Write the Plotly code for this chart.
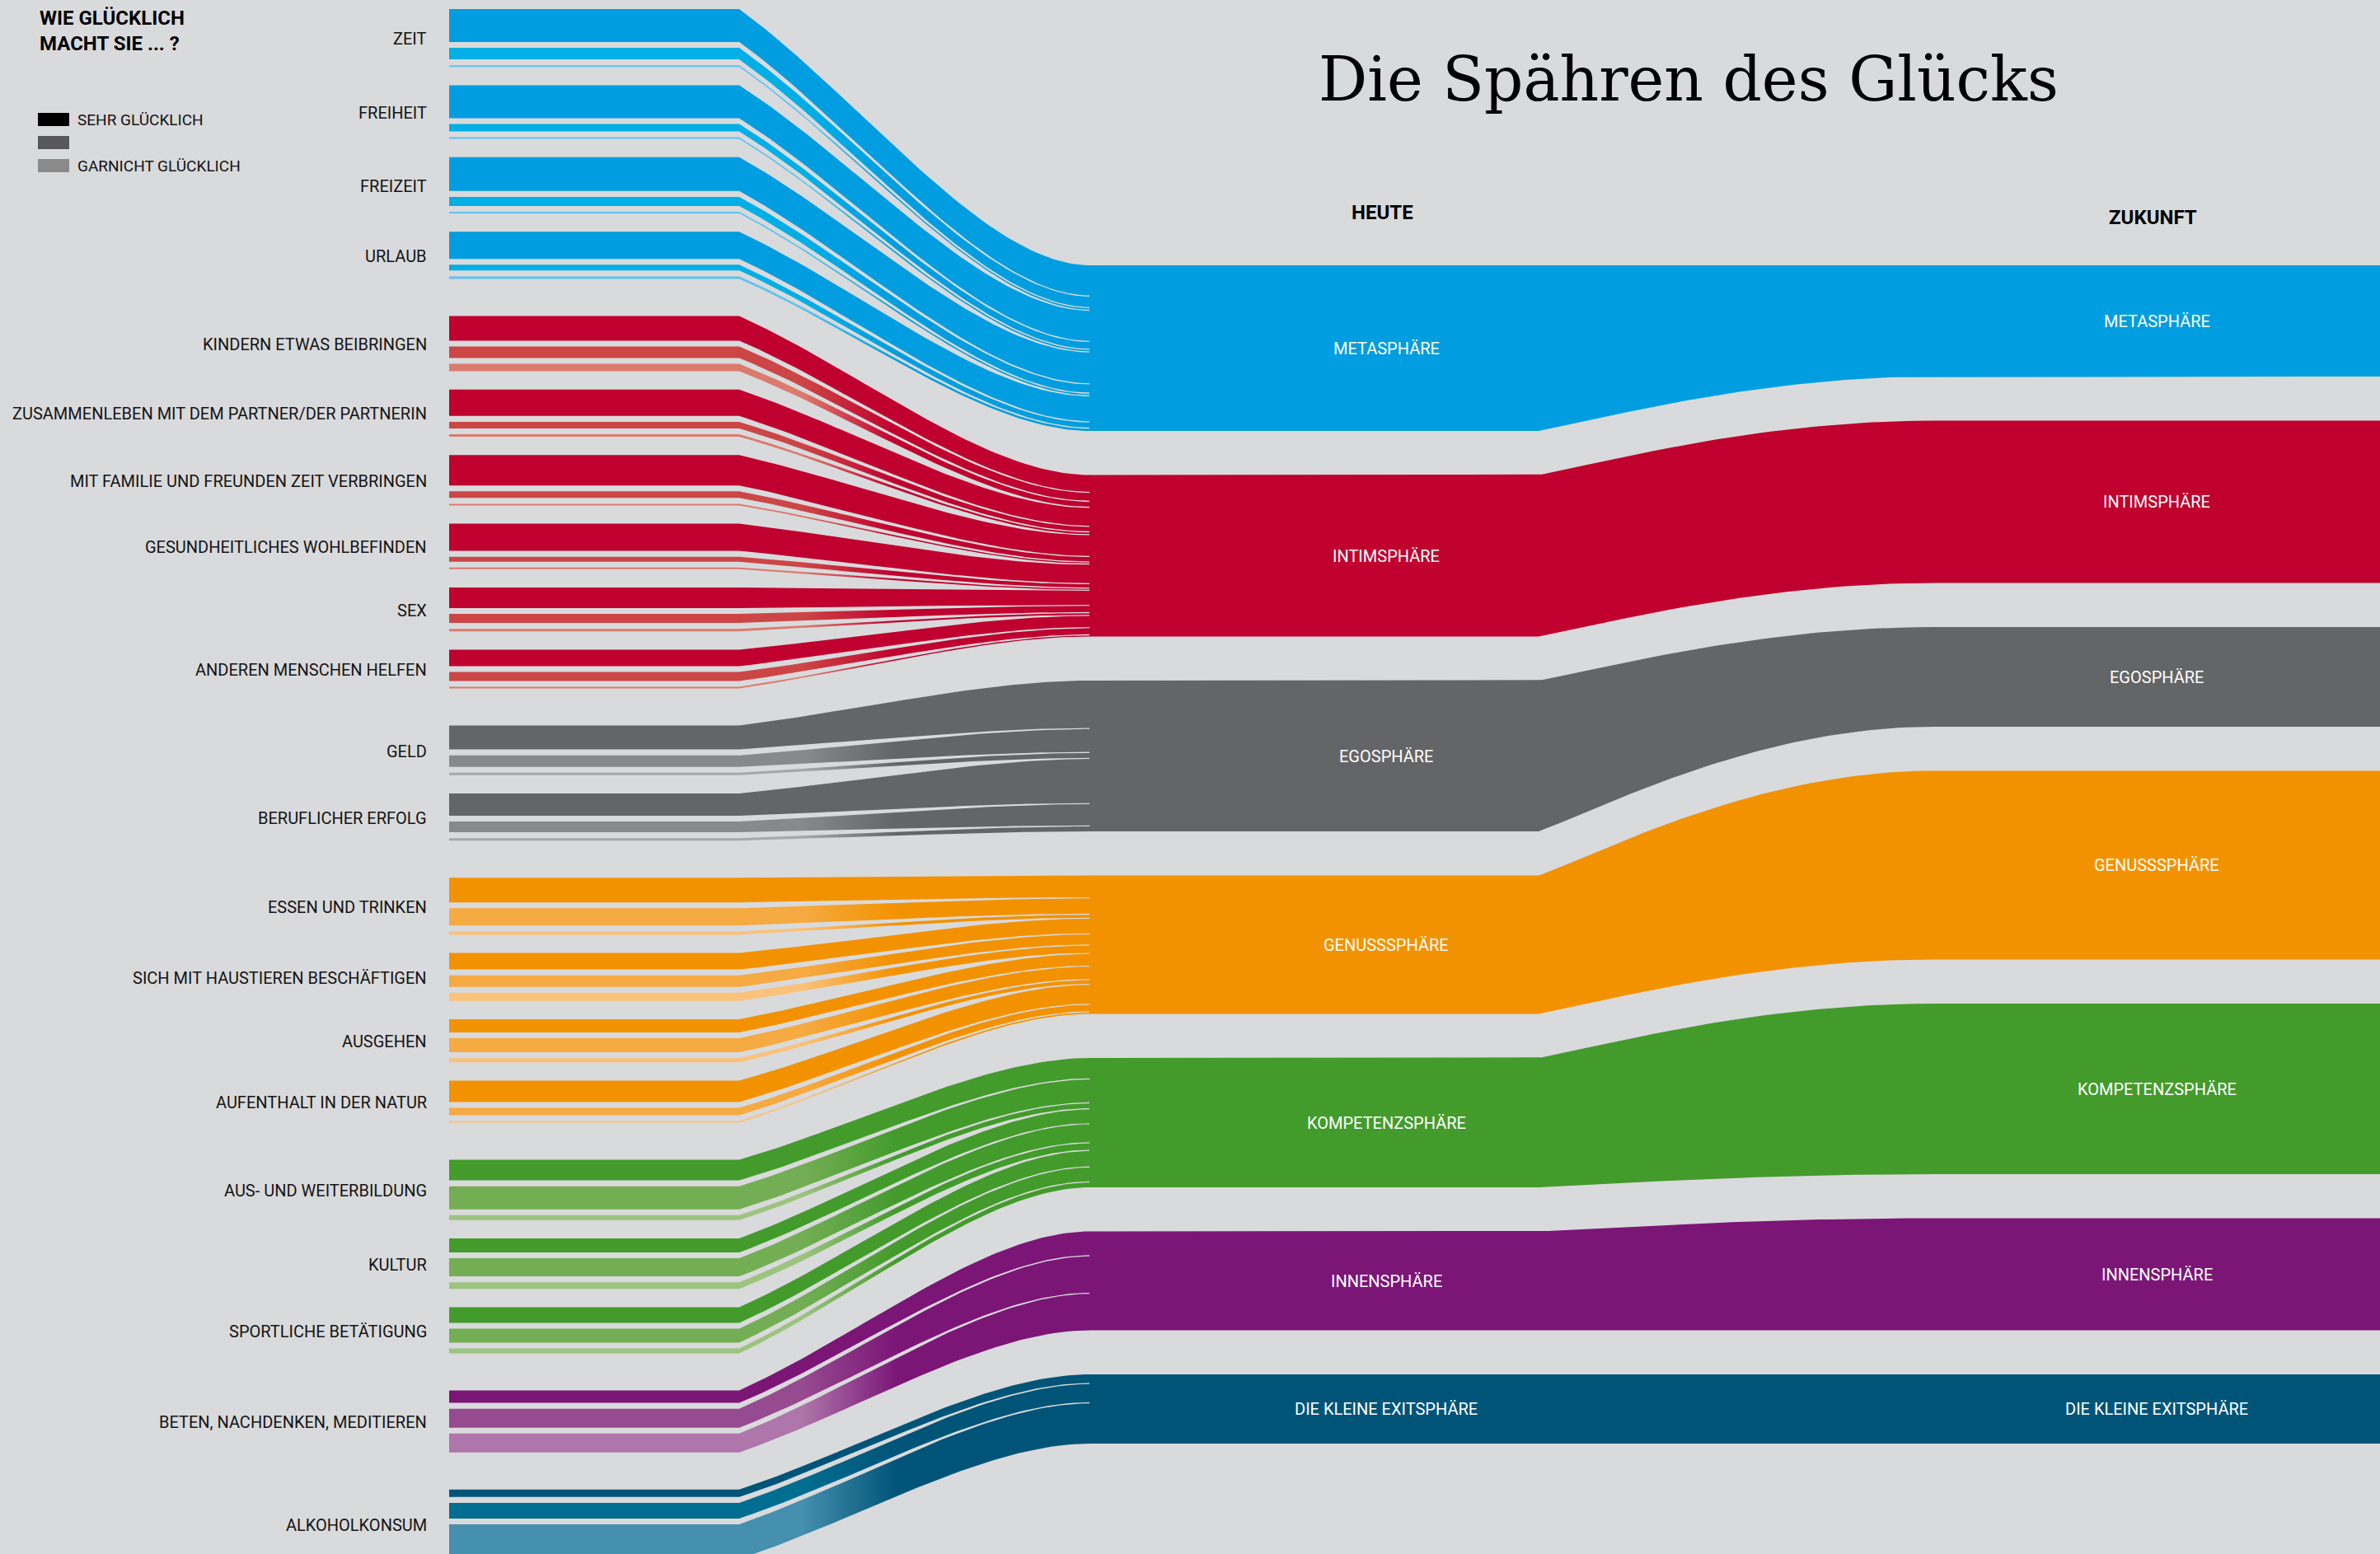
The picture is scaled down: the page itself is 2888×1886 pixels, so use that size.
import numpy as np
import plotly.graph_objects as go

# ---------------- data ----------------
sphere_names = ["METASPHÄRE", "INTIMSPHÄRE", "EGOSPHÄRE", "GENUSSSPHÄRE",
                "KOMPETENZSPHÄRE", "INNENSPHÄRE", "DIE KLEINE EXITSPHÄRE"]
sphere_heute = [201, 196, 183, 168, 157, 120, 84]
sphere_zukunft = [135, 197, 121, 229, 207, 136, 84]

sphere_color = ["#009EE0", "#C0002E", "#646567", "#F39200", "#439B2C", "#7B1677", "#005478"]
sphere_color_mid = ["#00AFE6", "#CC4646", "#88898A", "#F5AA42", "#74AE54", "#964A8F", "#006E91"]
sphere_color_light = ["#5CC3EE", "#DC7A6E", "#A7A8A9", "#FAC27A", "#9DC47F", "#AE76AA", "#458FAF"]

item_labels = ["ZEIT", "FREIHEIT", "FREIZEIT", "URLAUB",
               "KINDERN ETWAS BEIBRINGEN", "ZUSAMMENLEBEN MIT DEM PARTNER/DER PARTNERIN",
               "MIT FAMILIE UND FREUNDEN ZEIT VERBRINGEN", "GESUNDHEITLICHES WOHLBEFINDEN",
               "SEX", "ANDEREN MENSCHEN HELFEN",
               "GELD", "BERUFLICHER ERFOLG",
               "ESSEN UND TRINKEN", "SICH MIT HAUSTIEREN BESCHÄFTIGEN", "AUSGEHEN",
               "AUFENTHALT IN DER NATUR",
               "AUS- UND WEITERBILDUNG", "KULTUR", "SPORTLICHE BETÄTIGUNG",
               "BETEN, NACHDENKEN, MEDITIEREN",
               "ALKOHOLKONSUM"]
item_sphere = [0, 0, 0, 0, 1, 1, 1, 1, 1, 1, 2, 2, 3, 3, 3, 3, 4, 4, 4, 5, 6]
sehr_gluecklich = [40, 40, 41, 33, 30, 32, 37, 33, 25, 20, 29, 27, 30, 20, 16, 26, 25, 17, 19, 15, 9]
gluecklich = [14, 9, 11, 7, 14, 8, 8, 6, 11, 11, 14, 13, 21, 14, 17, 9, 28, 22, 17, 23, 19]
garnicht_gluecklich = [2, 2, 2, 3, 9, 3, 2, 2, 3, 2, 3, 3, 4, 10, 5, 2, 6, 8, 6, 23, 42]

legend_labels = ["SEHR GLÜCKLICH", "", "GARNICHT GLÜCKLICH"]
legend_colors = ["#000000", "#58585A", "#8A8A8B"]

# ---------------- layout constants ----------------
W, H = 2888, 1886
BG = "#D9DADC"
FONT = "Roboto, Liberation Sans, sans-serif"
X_LABEL = 520
X_BAR0, X_BAR1 = 545, 897
X_H0, X_H1 = 1322, 1867
X_Z0, X_Z1 = 2346, W
X_HLABEL = 1682
Y_LEFT0 = 11
BAR_GAP, ITEM_GAP, SPHERE_GAP = 7.1, 22.2, 45
Y_NODE0, NODE_GAP = 322, 53.5
SEP = 1.3


def bez(x0, y0, x1, y1, p1, p2, n=60):
    t = np.linspace(0, 1, n)

    def b(c):
        return (1 - t) ** 3 * c[0] + 3 * (1 - t) ** 2 * t * c[1] + 3 * (1 - t) * t ** 2 * c[2] + t ** 3 * c[3]
    return x0 + (x1 - x0) * b([0, p1[0], p2[0], 1]), y0 + (y1 - y0) * b([0, p1[1], p2[1], 1])


# left bar positions
bars = []  # (item, level, y0, y1, value)
item_center = []
y = Y_LEFT0
prev = None
for i in range(len(item_labels)):
    s = item_sphere[i]
    if prev is not None:
        y += SPHERE_GAP if s != prev else ITEM_GAP
    start = y
    vals = [sehr_gluecklich[i], gluecklich[i], garnicht_gluecklich[i]]
    for k, v in enumerate(vals):
        if k:
            y += BAR_GAP
        bars.append((i, k, y, y + v, v))
        y += v
    item_center.append((start + y) / 2)
    prev = s


def stack(vals):
    out, yy = [], Y_NODE0
    for v in vals:
        out.append((yy, yy + v))
        yy += v + NODE_GAP
    return out


heute_pos = stack(sphere_heute)
zukunft_pos = stack(sphere_zukunft)

fig = go.Figure()

# sphere bands heute -> zukunft
for s in range(len(sphere_names)):
    (ht, hb), (zt, zb) = heute_pos[s], zukunft_pos[s]
    cx_t, cy_t = bez(X_H1, ht, X_Z0, zt, (0.15, 0.2), (0.55, 1.0))
    cx_b, cy_b = bez(X_H1, hb, X_Z0, zb, (0.15, 0.2), (0.55, 1.0))
    xs = [X_H0] + list(cx_t) + [X_Z1, X_Z1] + list(cx_b[::-1]) + [X_H0]
    ys = [ht] + list(cy_t) + [zt, zb] + list(cy_b[::-1]) + [hb]
    fig.add_trace(go.Scatter(x=xs, y=ys, fill="toself", fillcolor=sphere_color[s],
                             line=dict(width=0), mode="lines", hoverinfo="skip"))

# flows from left bars into heute nodes
for s in range(len(sphere_names)):
    sb = [b for b in bars if item_sphere[b[0]] == s]
    total = sum(b[4] for b in sb)
    ht, hb = heute_pos[s]
    scale = (hb - ht - SEP * (len(sb) - 1)) / total
    ey = ht
    for (i, k, y0, y1, v) in sb:
        e0, e1 = ey, ey + v * scale
        ey = e1 + SEP
        tx, ty = bez(X_BAR1, y0, X_H0 + 1, e0, (0.35, 0.35), (0.7, 1.0))
        bx, by = bez(X_BAR1, y1, X_H0 + 1, e1, (0.35, 0.35), (0.7, 1.0))
        xs = list(tx) + list(bx[::-1])
        ys = list(ty) + list(by[::-1])
        if k == 0:
            fig.add_trace(go.Scatter(x=xs, y=ys, fill="toself", fillcolor=sphere_color[s],
                                     line=dict(width=0), mode="lines", hoverinfo="skip"))
        else:
            light = sphere_color_mid[s] if k == 1 else sphere_color_light[s]
            fig.add_trace(go.Scatter(
                x=xs, y=ys, fill="toself", fillcolor=sphere_color[s],
                fillgradient=dict(type="horizontal",
                                  colorscale=[[0, light], [0.18, light], [0.45, sphere_color[s]],
                                              [1, sphere_color[s]]],
                                  start=X_BAR1, stop=X_H0),
                line=dict(width=0), mode="lines", hoverinfo="skip"))

# left bars
bar_cols = [[sphere_color, sphere_color_mid, sphere_color_light][b[1]][item_sphere[b[0]]] for b in bars]
fig.add_trace(go.Bar(
    orientation="h",
    y=[(b[2] + b[3]) / 2 for b in bars],
    x=[X_BAR1 - X_BAR0] * len(bars),
    base=[X_BAR0] * len(bars),
    width=[b[4] for b in bars],
    marker=dict(color=bar_cols, line=dict(width=0)),
    hoverinfo="skip"))

annotations = []
for i, lab in enumerate(item_labels):
    annotations.append(dict(x=X_LABEL, y=item_center[i] + 1, text=lab, xanchor="right", yanchor="middle",
                            showarrow=False, font=dict(family=FONT, size=20, color="#141414")))

for s, name in enumerate(sphere_names):
    annotations.append(dict(x=X_HLABEL, y=sum(heute_pos[s]) / 2,
                            text=name, showarrow=False, xanchor="center", yanchor="middle",
                            font=dict(family=FONT, size=20, color="white")))
    annotations.append(dict(x=(X_Z0 + X_Z1) / 2, y=sum(zukunft_pos[s]) / 2,
                            text=name, showarrow=False, xanchor="center", yanchor="middle",
                            font=dict(family=FONT, size=20, color="white")))

annotations += [
    dict(x=2049, y=96, text="Die Spähren des Glücks", showarrow=False, xanchor="center", yanchor="middle",
         font=dict(family="DejaVu Serif", size=74, color="#000000")),
    dict(x=1677, y=258, text="<b>HEUTE</b>", showarrow=False, xanchor="center", yanchor="middle",
         font=dict(family=FONT, size=24, color="#000000")),
    dict(x=2612, y=264, text="<b>ZUKUNFT</b>", showarrow=False, xanchor="center", yanchor="middle",
         font=dict(family=FONT, size=24, color="#000000")),
    dict(x=46, y=6, text="<b>WIE GLÜCKLICH<br>MACHT SIE ... ?</b>", showarrow=False, xanchor="left",
         yanchor="top", align="left", font=dict(family=FONT, size=24, color="#000000")),
]

shapes = []
for j, (lab, col) in enumerate(zip(legend_labels, legend_colors)):
    yc = 145 + 28 * j
    shapes.append(dict(type="rect", xref="x", yref="y", x0=46, x1=84, y0=yc - 8, y1=yc + 8,
                       fillcolor=col, line=dict(width=0)))
    if lab:
        annotations.append(dict(x=92, y=yc, text=lab, showarrow=False, xanchor="left", yanchor="middle",
                                font=dict(family=FONT, size=19, color="#141414")))

fig.update_layout(
    width=W, height=H, margin=dict(l=0, r=0, t=0, b=0),
    paper_bgcolor=BG, plot_bgcolor=BG, showlegend=False, barmode="overlay",
    xaxis=dict(range=[0, W], visible=False, fixedrange=True),
    yaxis=dict(range=[H, 0], visible=False, fixedrange=True),
    annotations=annotations, shapes=shapes,
)

fig.write_html("out.html", config={"displayModeBar": False},
               post_script="document.body.style.margin='0px';")
